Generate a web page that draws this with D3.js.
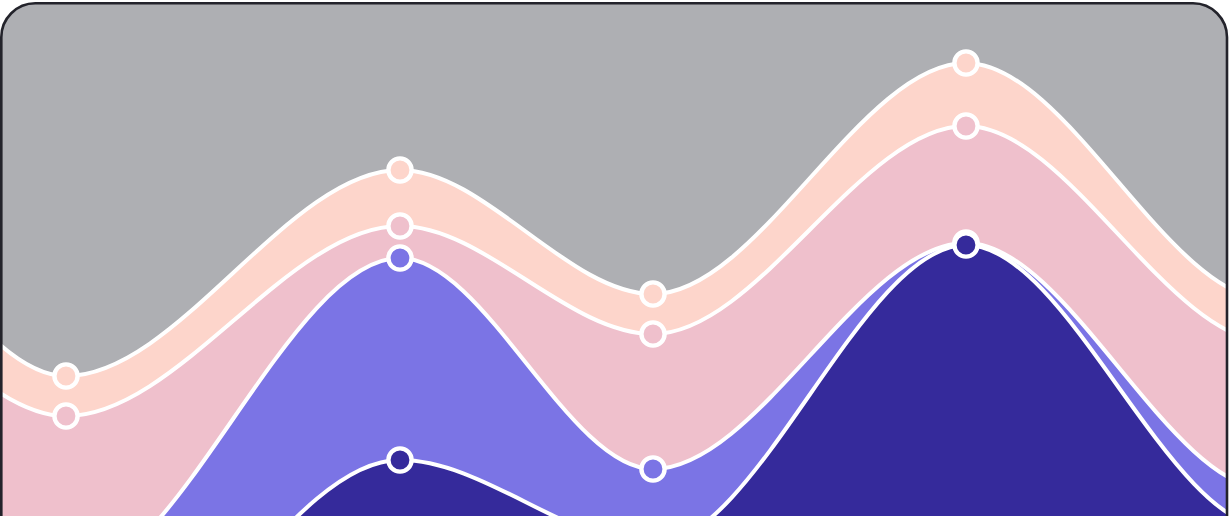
<!DOCTYPE html>
<html>
<head>
<meta charset="utf-8">
<script src="https://cdn.jsdelivr.net/npm/d3@7"></script>
<style>
  html, body { margin: 0; padding: 0; background: #ffffff; }
  svg { display: block; }
</style>
</head>
<body>
<div id="chart"></div>
<script>
// data (x positions run past both edges of the card, only the middle is visible)
var xs     = [-56, -24, 6.6, 40, 65.3, 96.6, 127, 158];
var navy   = [24, 32, 10, 60, 43, 103, 46.4, 72];
var purple = [24, 26, 26, 40.4, 15.2, 0.4, 7.6, 10];
var pink   = [32, 49.4, 32.8, 6.4, 27, 23.4, 29.6, 30];
var peach  = [12, 21.6, 8, 11.2, 8, 12.6, 8.4, 10];
var keys   = ["navy", "purple", "pink", "peach"];
var colors = ["#352a9b", "#7b74e5", "#efc0cc", "#fdd5cb"];

var width = 1230, height = 516;

var rows = xs.map(function(x, i) {
  return {x: x, navy: navy[i], purple: purple[i], pink: pink[i], peach: peach[i]};
});

var series = d3.stack().keys(keys)(rows);

var x = d3.scaleLinear()
    .domain([0, 123])
    .range([0, width]);
var y = d3.scaleLinear()
    .domain([0, 150])
    .range([760, 10]);

var svg = d3.select("#chart")
    .append("svg")
    .attr("width", width)
    .attr("height", height);

var card = {x: 1.3, y: 3.3, w: 1225.7, h: 700, r: 34};

svg.append("clipPath")
    .attr("id", "card-clip")
    .append("rect")
    .attr("x", card.x)
    .attr("y", card.y)
    .attr("width", card.w)
    .attr("height", card.h)
    .attr("rx", card.r);

svg.append("rect")
    .attr("x", card.x)
    .attr("y", card.y)
    .attr("width", card.w)
    .attr("height", card.h)
    .attr("rx", card.r)
    .attr("fill", "#aeafb3");

var g = svg.append("g").attr("clip-path", "url(#card-clip)");

var area = d3.area()
    .curve(d3.curveMonotoneX)
    .x(function(d) { return x(d.data.x); })
    .y0(function(d) { return y(d[0]); })
    .y1(function(d) { return y(d[1]); });

var topLine = d3.line()
    .curve(d3.curveMonotoneX)
    .x(function(d) { return x(d.data.x); })
    .y(function(d) { return y(d[1]); });

g.selectAll(".layer")
    .data(series)
    .enter()
    .append("path")
    .attr("class", "layer")
    .attr("d", area)
    .attr("fill", function(d, i) { return colors[i]; });

g.selectAll(".edge")
    .data(series)
    .enter()
    .append("path")
    .attr("class", "edge")
    .attr("d", topLine)
    .attr("fill", "none")
    .attr("stroke", "#ffffff")
    .attr("stroke-width", 4);

// dots, bottom layer drawn last so it sits on top
series.slice().reverse().forEach(function(s) {
  var c = colors[s.index];
  g.selectAll(".dot-" + s.key)
    .data(s)
    .enter()
    .append("circle")
    .attr("class", "dot-" + s.key)
    .attr("cx", function(d) { return x(d.data.x); })
    .attr("cy", function(d) { return y(d[1]); })
    .attr("r", 11.6)
    .attr("fill", c)
    .attr("stroke", "#ffffff")
    .attr("stroke-width", 4.4);
});

svg.append("rect")
    .attr("x", card.x)
    .attr("y", card.y)
    .attr("width", card.w)
    .attr("height", card.h)
    .attr("rx", card.r)
    .attr("fill", "none")
    .attr("stroke", "#23232b")
    .attr("stroke-width", 2.6);
</script>
</body>
</html>
